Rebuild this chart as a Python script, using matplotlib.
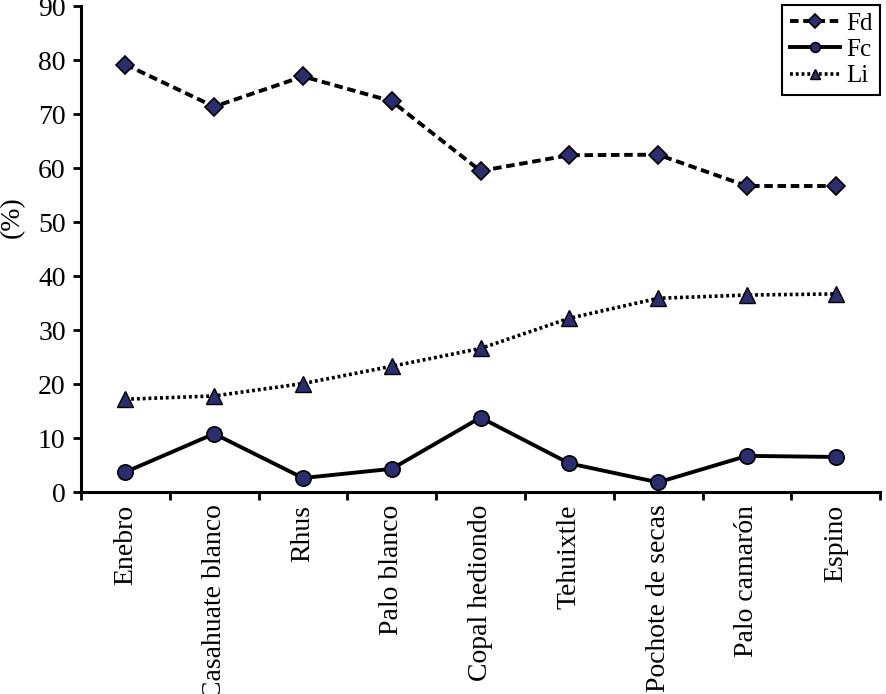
import matplotlib
matplotlib.use("Agg")
import matplotlib.pyplot as plt
import numpy as np

categories = ["Enebro", "Casahuate blanco", "Rhus", "Palo blanco", "Copal hediondo",
              "Tehuixtle", "Pochote de secas", "Palo camarón", "Espino"]
fd = [79.2, 71.4, 77.0, 72.4, 59.5, 62.4, 62.5, 56.7, 56.7]
fc = [3.7, 10.8, 2.6, 4.3, 13.8, 5.3, 1.8, 6.7, 6.5]
li = [17.2, 17.8, 20.1, 23.3, 26.6, 32.2, 35.9, 36.5, 36.7]
yticks = list(range(0, 91, 10))

plt.rcParams['font.family'] = ['Liberation Serif', 'DejaVu Serif']

fig = plt.figure(figsize=(8.86, 6.94), dpi=100)
ax = fig.add_axes([0.0914, 0.291, 0.902, 0.700])

x = np.arange(len(categories))
mfc = '#2b2d6e'
ax.plot(x, fd, linestyle=(0, (2.2, 1.2)), color='black', linewidth=2.8,
        marker='D', markersize=9, markerfacecolor=mfc, markeredgecolor='black',
        markeredgewidth=1.2, label='Fd')
ax.plot(x, fc, linestyle='-', color='black', linewidth=2.8,
        marker='o', markersize=11, markerfacecolor=mfc, markeredgecolor='black',
        markeredgewidth=1.2, label='Fc')
ax.plot(x, li, linestyle=(0, (0.8, 0.8)), color='black', linewidth=2.6,
        marker='^', markersize=11, markerfacecolor=mfc, markeredgecolor='black',
        markeredgewidth=1.0, label='Li')

ax.set_xlim(-0.5, len(categories) - 0.5)
ax.set_ylim(0, 90)
ax.set_yticks(yticks)
ax.set_yticklabels([str(t) for t in yticks], fontsize=20)

ax.set_xticks(np.arange(-0.5, len(categories), 1.0))
ax.set_xticklabels([])
ax.set_xticks(x, minor=True)
ax.set_xticklabels(categories, minor=True, rotation=90, fontsize=20)
ax.tick_params(axis='x', which='minor', length=0, pad=9)
ax.tick_params(axis='x', which='major', length=6, width=2, direction='out')
ax.tick_params(axis='y', length=6, width=2, direction='out', pad=5)

for s in ['top', 'right']:
    ax.spines[s].set_visible(False)
for s in ['left', 'bottom']:
    ax.spines[s].set_linewidth(2.2)

ax.set_ylabel('(%)', fontsize=20)
ax.yaxis.set_label_coords(-0.07, 0.566)

leg = ax.legend(loc='upper right', bbox_to_anchor=(1.0, 1.003), fontsize=18,
                frameon=True, fancybox=False, framealpha=1, edgecolor='black',
                handlelength=2.0, handletextpad=0.25, borderpad=0.3,
                labelspacing=0.15, borderaxespad=0)
leg.get_frame().set_linewidth(1.5)
for h in leg.legend_handles:
    h.set_markersize(7)

fig.savefig('out.png', dpi=100)
